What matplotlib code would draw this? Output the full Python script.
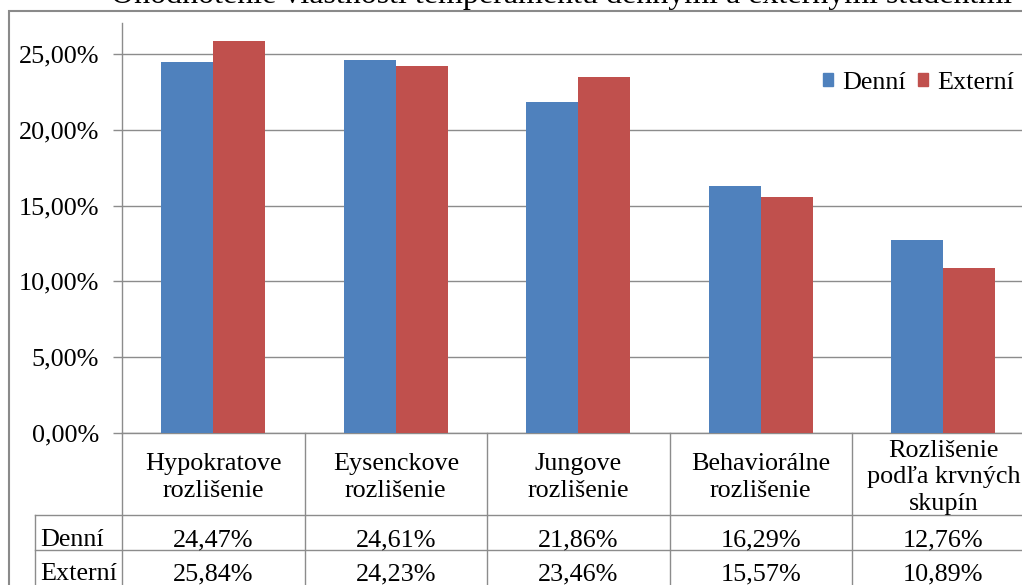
import matplotlib
matplotlib.use("Agg")
import numpy as np
import matplotlib.pyplot as plt
import matplotlib.transforms as mtransforms
from matplotlib.lines import Line2D
from matplotlib.patches import Rectangle, Patch
from matplotlib.ticker import FuncFormatter

# --- data -------------------------------------------------------------
title = "Ohodnotenie vlastností temperamentu dennými a externými študentmi"
categories = [
    "Hypokratove\nrozlišenie",
    "Eysenckove\nrozlišenie",
    "Jungove\nrozlišenie",
    "Behaviorálne\nrozlišenie",
    "Rozlišenie\npodľa krvných\nskupín",
]
series_names = ["Denní", "Externí"]
denni = [24.47, 24.61, 21.86, 16.29, 12.76]
externi = [25.84, 24.23, 23.46, 15.57, 10.89]
y_ticks = [0, 5, 10, 15, 20, 25]

# --- style ------------------------------------------------------------
BLUE = "#4F81BD"
RED = "#C0504D"
GRID = "#8C8C8C"
BORDER = "#8A8A8A"
FS = 18.8

plt.rcParams["font.family"] = ["Liberation Serif", "DejaVu Serif"]

W, H, DPI = 1022, 585, 100
fig = plt.figure(figsize=(W / DPI, H / DPI), dpi=DPI)
fig.patch.set_facecolor("white")


def fx(px):
    return px / W


def fy(py):
    return 1 - py / H


def pct(v):
    return f"{v:.2f}".replace(".", ",") + "%"


# plot area (pixel box); the right part runs past the canvas edge
left, right, top, bottom = 122, 1034.5, 23, 433
ax = fig.add_axes([fx(left), fy(bottom), (right - left) / W, (bottom - top) / H])

x = np.arange(len(categories))
bw = 0.2855
ax.bar(x - bw / 2, denni, bw, color=BLUE, zorder=3)
ax.bar(x + bw / 2, externi, bw, color=RED, zorder=3)

ax.set_xlim(-0.5, len(categories) - 0.5)
ax.set_ylim(0, 27.05)
ax.set_yticks(y_ticks)
ax.yaxis.set_major_formatter(FuncFormatter(lambda v, p: pct(v)))
ax.set_xticks([])
ax.yaxis.grid(True, color=GRID, lw=1)
ax.set_axisbelow(True)
for s in ("top", "right"):
    ax.spines[s].set_visible(False)
for s in ("left", "bottom"):
    ax.spines[s].set_color(GRID)
    ax.spines[s].set_linewidth(1)
ax.tick_params(axis="y", length=6.5, width=1, color=GRID, pad=10, labelsize=FS)

# --- data table under the axis ----------------------------------------
trans = mtransforms.blended_transform_factory(ax.transData, fig.transFigure)
line_kw = dict(color=GRID, lw=1, clip_on=False)

for xb in np.arange(len(categories)) - 0.5:
    fig.add_artist(Line2D([xb, xb], [fy(433), fy(620)], transform=trans, **line_kw))
for yb in (515, 550):
    fig.add_artist(Line2D([fx(35), 1.05], [fy(yb), fy(yb)],
                          transform=fig.transFigure, **line_kw))
fig.add_artist(Line2D([fx(35), fx(35)], [fy(515), fy(620)],
                      transform=fig.transFigure, **line_kw))

# category cells: lines centred vertically in the header band
mid, step = 483.5, 26.5
for i, cat in enumerate(categories):
    rows = cat.split("\n")
    n = len(rows)
    for k, row in enumerate(rows):
        yb = mid + (k - (n - 1) / 2) * step
        fig.text(i, fy(yb), row, transform=trans, ha="center",
                 va="baseline", fontsize=FS)

for name, vals, yb in ((series_names[0], denni, 546), (series_names[1], externi, 580)):
    fig.text(fx(40), fy(yb), name, ha="left", va="baseline", fontsize=FS)
    for i, v in enumerate(vals):
        fig.text(i, fy(yb), pct(v), transform=trans, ha="center",
                 va="baseline", fontsize=FS)

# --- title, legend, chart frame ----------------------------------------
fig.text(fx(562), fy(3), title, ha="center", va="baseline", fontsize=23)

handles = [Patch(color=BLUE), Patch(color=RED)]
fig.legend(handles, series_names, loc="center left",
           bbox_to_anchor=(fx(823), fy(83)), ncol=2, frameon=False,
           fontsize=FS, handlelength=0.4, handleheight=0.4,
           handletextpad=0.35, columnspacing=0.45, borderpad=0,
           borderaxespad=0)

fig.add_artist(Rectangle((fx(9), fy(640)), 1.2, fy(10.5) - fy(640),
                         transform=fig.transFigure, fill=False,
                         ec=BORDER, lw=1.5, clip_on=False))

fig.savefig("out.png", dpi=DPI, facecolor="white")
